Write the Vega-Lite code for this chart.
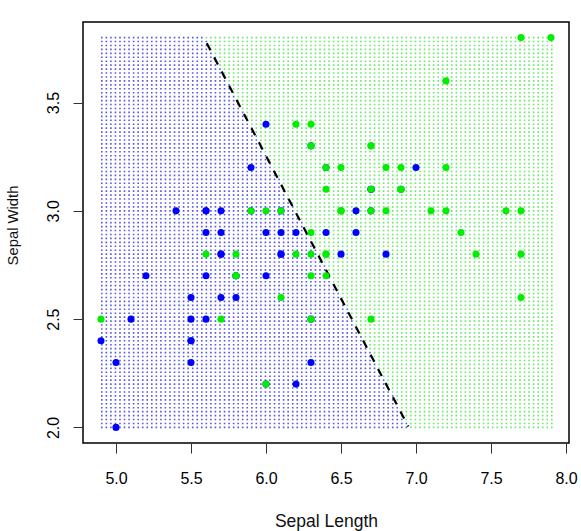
{
"$schema":"https://vega.github.io/schema/vega-lite/v6.json",
"width":486,"height":421,
"autosize":{"type":"none"},
"padding":{"left":83,"top":22,"right":12,"bottom":88},
"background":"white",
"config":{"view":{"stroke":"#000","strokeWidth":1.5},"font":"Liberation Sans"},
"datasets":{
"grid":[
{"y":2,"b":6.9303,"g":6.9606},{"y":2.0182,"b":6.9303,"g":6.9606},{"y":2.0364,"b":6.9,"g":6.9303},{"y":2.0545,"b":6.9,"g":6.9303},{"y":2.0727,"b":6.8697,"g":6.9},{"y":2.0909,"b":6.8697,"g":6.9},{"y":2.1091,"b":6.8394,"g":6.8697},{"y":2.1273,"b":6.8394,"g":6.8697},{"y":2.1455,"b":6.8394,"g":6.8697},{"y":2.1636,"b":6.8091,"g":6.8394},
{"y":2.1818,"b":6.8091,"g":6.8394},{"y":2.2,"b":6.7788,"g":6.8091},{"y":2.2182,"b":6.7788,"g":6.8091},{"y":2.2364,"b":6.7485,"g":6.7788},{"y":2.2545,"b":6.7485,"g":6.7788},{"y":2.2727,"b":6.7182,"g":6.7485},{"y":2.2909,"b":6.7182,"g":6.7485},{"y":2.3091,"b":6.6879,"g":6.7182},{"y":2.3273,"b":6.6879,"g":6.7182},{"y":2.3455,"b":6.6879,"g":6.7182},
{"y":2.3636,"b":6.6576,"g":6.6879},{"y":2.3818,"b":6.6576,"g":6.6879},{"y":2.4,"b":6.6273,"g":6.6576},{"y":2.4182,"b":6.6273,"g":6.6576},{"y":2.4364,"b":6.597,"g":6.6273},{"y":2.4545,"b":6.597,"g":6.6273},{"y":2.4727,"b":6.5667,"g":6.597},{"y":2.4909,"b":6.5667,"g":6.597},{"y":2.5091,"b":6.5364,"g":6.5667},{"y":2.5273,"b":6.5364,"g":6.5667},
{"y":2.5455,"b":6.5364,"g":6.5667},{"y":2.5636,"b":6.5061,"g":6.5364},{"y":2.5818,"b":6.5061,"g":6.5364},{"y":2.6,"b":6.4758,"g":6.5061},{"y":2.6182,"b":6.4758,"g":6.5061},{"y":2.6364,"b":6.4455,"g":6.4758},{"y":2.6545,"b":6.4455,"g":6.4758},{"y":2.6727,"b":6.4152,"g":6.4455},{"y":2.6909,"b":6.4152,"g":6.4455},{"y":2.7091,"b":6.3848,"g":6.4152},
{"y":2.7273,"b":6.3848,"g":6.4152},{"y":2.7455,"b":6.3848,"g":6.4152},{"y":2.7636,"b":6.3545,"g":6.3848},{"y":2.7818,"b":6.3545,"g":6.3848},{"y":2.8,"b":6.3242,"g":6.3545},{"y":2.8182,"b":6.3242,"g":6.3545},{"y":2.8364,"b":6.2939,"g":6.3242},{"y":2.8545,"b":6.2939,"g":6.3242},{"y":2.8727,"b":6.2636,"g":6.2939},{"y":2.8909,"b":6.2636,"g":6.2939},
{"y":2.9091,"b":6.2333,"g":6.2636},{"y":2.9273,"b":6.2333,"g":6.2636},{"y":2.9455,"b":6.2333,"g":6.2636},{"y":2.9636,"b":6.203,"g":6.2333},{"y":2.9818,"b":6.203,"g":6.2333},{"y":3.0,"b":6.1727,"g":6.203},{"y":3.0182,"b":6.1727,"g":6.203},{"y":3.0364,"b":6.1424,"g":6.1727},{"y":3.0545,"b":6.1424,"g":6.1727},{"y":3.0727,"b":6.1121,"g":6.1424},
{"y":3.0909,"b":6.1121,"g":6.1424},{"y":3.1091,"b":6.0818,"g":6.1121},{"y":3.1273,"b":6.0818,"g":6.1121},{"y":3.1455,"b":6.0818,"g":6.1121},{"y":3.1636,"b":6.0515,"g":6.0818},{"y":3.1818,"b":6.0515,"g":6.0818},{"y":3.2,"b":6.0212,"g":6.0515},{"y":3.2182,"b":6.0212,"g":6.0515},{"y":3.2364,"b":5.9909,"g":6.0212},{"y":3.2545,"b":5.9909,"g":6.0212},
{"y":3.2727,"b":5.9606,"g":5.9909},{"y":3.2909,"b":5.9606,"g":5.9909},{"y":3.3091,"b":5.9303,"g":5.9606},{"y":3.3273,"b":5.9303,"g":5.9606},{"y":3.3455,"b":5.9303,"g":5.9606},{"y":3.3636,"b":5.9,"g":5.9303},{"y":3.3818,"b":5.9,"g":5.9303},{"y":3.4,"b":5.8697,"g":5.9},{"y":3.4182,"b":5.8697,"g":5.9},{"y":3.4364,"b":5.8394,"g":5.8697},
{"y":3.4545,"b":5.8394,"g":5.8697},{"y":3.4727,"b":5.8091,"g":5.8394},{"y":3.4909,"b":5.8091,"g":5.8394},{"y":3.5091,"b":5.7788,"g":5.8091},{"y":3.5273,"b":5.7788,"g":5.8091},{"y":3.5455,"b":5.7485,"g":5.7788},{"y":3.5636,"b":5.7485,"g":5.7788},{"y":3.5818,"b":5.7485,"g":5.7788},{"y":3.6,"b":5.7182,"g":5.7485},{"y":3.6182,"b":5.7182,"g":5.7485},
{"y":3.6364,"b":5.6879,"g":5.7182},{"y":3.6545,"b":5.6879,"g":5.7182},{"y":3.6727,"b":5.6576,"g":5.6879},{"y":3.6909,"b":5.6576,"g":5.6879},{"y":3.7091,"b":5.6273,"g":5.6576},{"y":3.7273,"b":5.6273,"g":5.6576},{"y":3.7455,"b":5.597,"g":5.6273},{"y":3.7636,"b":5.597,"g":5.6273},{"y":3.7818,"b":5.597,"g":5.6273},{"y":3.8,"b":5.5667,"g":5.597}
],
"iris":[
{"sl":7.0,"sw":3.2,"sp":"versicolor"},{"sl":6.4,"sw":3.2,"sp":"versicolor"},{"sl":6.9,"sw":3.1,"sp":"versicolor"},{"sl":5.5,"sw":2.3,"sp":"versicolor"},{"sl":6.5,"sw":2.8,"sp":"versicolor"},{"sl":5.7,"sw":2.8,"sp":"versicolor"},{"sl":6.3,"sw":3.3,"sp":"versicolor"},{"sl":4.9,"sw":2.4,"sp":"versicolor"},{"sl":6.6,"sw":2.9,"sp":"versicolor"},{"sl":5.2,"sw":2.7,"sp":"versicolor"},
{"sl":5.0,"sw":2.0,"sp":"versicolor"},{"sl":5.9,"sw":3.0,"sp":"versicolor"},{"sl":6.0,"sw":2.2,"sp":"versicolor"},{"sl":6.1,"sw":2.9,"sp":"versicolor"},{"sl":5.6,"sw":2.9,"sp":"versicolor"},{"sl":6.7,"sw":3.1,"sp":"versicolor"},{"sl":5.6,"sw":3.0,"sp":"versicolor"},{"sl":5.8,"sw":2.7,"sp":"versicolor"},{"sl":6.2,"sw":2.2,"sp":"versicolor"},{"sl":5.6,"sw":2.5,"sp":"versicolor"},
{"sl":5.9,"sw":3.2,"sp":"versicolor"},{"sl":6.1,"sw":2.8,"sp":"versicolor"},{"sl":6.3,"sw":2.5,"sp":"versicolor"},{"sl":6.1,"sw":2.8,"sp":"versicolor"},{"sl":6.4,"sw":2.9,"sp":"versicolor"},{"sl":6.6,"sw":3.0,"sp":"versicolor"},{"sl":6.8,"sw":2.8,"sp":"versicolor"},{"sl":6.7,"sw":3.0,"sp":"versicolor"},{"sl":6.0,"sw":2.9,"sp":"versicolor"},{"sl":5.7,"sw":2.6,"sp":"versicolor"},
{"sl":5.5,"sw":2.4,"sp":"versicolor"},{"sl":5.5,"sw":2.4,"sp":"versicolor"},{"sl":5.8,"sw":2.7,"sp":"versicolor"},{"sl":6.0,"sw":2.7,"sp":"versicolor"},{"sl":5.4,"sw":3.0,"sp":"versicolor"},{"sl":6.0,"sw":3.4,"sp":"versicolor"},{"sl":6.7,"sw":3.1,"sp":"versicolor"},{"sl":6.3,"sw":2.3,"sp":"versicolor"},{"sl":5.6,"sw":3.0,"sp":"versicolor"},{"sl":5.5,"sw":2.5,"sp":"versicolor"},
{"sl":5.5,"sw":2.6,"sp":"versicolor"},{"sl":6.1,"sw":3.0,"sp":"versicolor"},{"sl":5.8,"sw":2.6,"sp":"versicolor"},{"sl":5.0,"sw":2.3,"sp":"versicolor"},{"sl":5.6,"sw":2.7,"sp":"versicolor"},{"sl":5.7,"sw":3.0,"sp":"versicolor"},{"sl":5.7,"sw":2.9,"sp":"versicolor"},{"sl":6.2,"sw":2.9,"sp":"versicolor"},{"sl":5.1,"sw":2.5,"sp":"versicolor"},{"sl":5.7,"sw":2.8,"sp":"versicolor"},
{"sl":6.3,"sw":3.3,"sp":"virginica"},{"sl":5.8,"sw":2.7,"sp":"virginica"},{"sl":7.1,"sw":3.0,"sp":"virginica"},{"sl":6.3,"sw":2.9,"sp":"virginica"},{"sl":6.5,"sw":3.0,"sp":"virginica"},{"sl":7.6,"sw":3.0,"sp":"virginica"},{"sl":4.9,"sw":2.5,"sp":"virginica"},{"sl":7.3,"sw":2.9,"sp":"virginica"},{"sl":6.7,"sw":2.5,"sp":"virginica"},{"sl":7.2,"sw":3.6,"sp":"virginica"},
{"sl":6.5,"sw":3.2,"sp":"virginica"},{"sl":6.4,"sw":2.7,"sp":"virginica"},{"sl":6.8,"sw":3.0,"sp":"virginica"},{"sl":5.7,"sw":2.5,"sp":"virginica"},{"sl":5.8,"sw":2.8,"sp":"virginica"},{"sl":6.4,"sw":3.2,"sp":"virginica"},{"sl":6.5,"sw":3.0,"sp":"virginica"},{"sl":7.7,"sw":3.8,"sp":"virginica"},{"sl":7.7,"sw":2.6,"sp":"virginica"},{"sl":6.0,"sw":2.2,"sp":"virginica"},
{"sl":6.9,"sw":3.2,"sp":"virginica"},{"sl":5.6,"sw":2.8,"sp":"virginica"},{"sl":7.7,"sw":2.8,"sp":"virginica"},{"sl":6.3,"sw":2.7,"sp":"virginica"},{"sl":6.7,"sw":3.3,"sp":"virginica"},{"sl":7.2,"sw":3.2,"sp":"virginica"},{"sl":6.2,"sw":2.8,"sp":"virginica"},{"sl":6.1,"sw":3.0,"sp":"virginica"},{"sl":6.4,"sw":2.8,"sp":"virginica"},{"sl":7.2,"sw":3.0,"sp":"virginica"},
{"sl":7.4,"sw":2.8,"sp":"virginica"},{"sl":7.9,"sw":3.8,"sp":"virginica"},{"sl":6.4,"sw":2.8,"sp":"virginica"},{"sl":6.3,"sw":2.8,"sp":"virginica"},{"sl":6.1,"sw":2.6,"sp":"virginica"},{"sl":7.7,"sw":3.0,"sp":"virginica"},{"sl":6.3,"sw":3.4,"sp":"virginica"},{"sl":6.4,"sw":3.1,"sp":"virginica"},{"sl":6.0,"sw":3.0,"sp":"virginica"},{"sl":6.9,"sw":3.1,"sp":"virginica"},
{"sl":6.7,"sw":3.1,"sp":"virginica"},{"sl":6.9,"sw":3.1,"sp":"virginica"},{"sl":5.8,"sw":2.7,"sp":"virginica"},{"sl":6.8,"sw":3.2,"sp":"virginica"},{"sl":6.7,"sw":3.3,"sp":"virginica"},{"sl":6.7,"sw":3.0,"sp":"virginica"},{"sl":6.3,"sw":2.5,"sp":"virginica"},{"sl":6.5,"sw":3.0,"sp":"virginica"},{"sl":6.2,"sw":3.4,"sp":"virginica"},{"sl":5.9,"sw":3.0,"sp":"virginica"}
],
"bound":[{"x":5.605,"y":3.774},{"x":6.949,"y":2.004}],
"extent":[{"lo":4.9,"hi":7.9}]
},
"layer":[
{"data":{"name":"grid"},
 "transform":[{"lookup":"y","from":{"data":{"name":"extent"},"key":"lo","fields":["lo"]},"default":4.9}],
 "mark":{"type":"rule","strokeDash":[1.6,2.94545],"strokeWidth":1.6,"x2Offset":1.7,"color":"#2020e0","opacity":0.75},
 "encoding":{
  "y":{"field":"y","type":"quantitative","scale":{"domain":[1.928,3.872],"nice":false,"zero":false}},
  "x":{"field":"lo","type":"quantitative","scale":{"domain":[4.78,8.02],"nice":false,"zero":false}},
  "x2":{"field":"b"}}},
{"data":{"name":"grid"},
 "transform":[{"lookup":"y","from":{"data":{"name":"extent"},"key":"hi","fields":["hi"]},"default":7.9}],
 "mark":{"type":"rule","strokeDash":[1.6,2.94545],"strokeWidth":1.6,"x2Offset":1.7,"color":"#00dd00","opacity":0.6},
 "encoding":{
  "y":{"field":"y","type":"quantitative","scale":{"domain":[1.928,3.872],"nice":false,"zero":false}},
  "x":{"field":"g","type":"quantitative","scale":{"domain":[4.78,8.02],"nice":false,"zero":false}},
  "x2":{"field":"hi"}}},
{"data":{"name":"bound"},
 "mark":{"type":"line","color":"#000","strokeWidth":2.2,"strokeDash":[8,8]},
 "encoding":{
  "x":{"field":"x","type":"quantitative","scale":{"domain":[4.78,8.02],"nice":false,"zero":false}},
  "y":{"field":"y","type":"quantitative","scale":{"domain":[1.928,3.872],"nice":false,"zero":false}}}},
{"data":{"name":"iris"},
 "mark":{"type":"point","filled":true,"size":50,"opacity":1,"strokeWidth":0},
 "encoding":{
  "x":{"field":"sl","type":"quantitative","scale":{"domain":[4.78,8.02],"nice":false,"zero":false},
   "axis":{"title":"Sepal Length","values":[5,5.5,6,6.5,7,7.5,8],"format":".1f","grid":false,"domain":false,"tickColor":"#333","tickSize":10,"tickWidth":1,"labelFontSize":16,"labelColor":"#000","labelPadding":17,"labelFlush":false,"labelOverlap":false,"titleFontSize":17.5,"titleFontWeight":"normal","titleColor":"#111","titleBaseline":"alphabetic","titleY":83,"titleX":243,"titleAlign":"center"}},
  "y":{"field":"sw","type":"quantitative","scale":{"domain":[1.928,3.872],"nice":false,"zero":false},
   "axis":{"title":"Sepal Width","values":[2,2.5,3,3.5],"format":".1f","grid":false,"domain":false,"tickColor":"#333","tickSize":10,"tickWidth":1,"labelFontSize":16,"labelColor":"#000","labelAngle":-90,"labelAlign":"center","labelBaseline":"bottom","labelPadding":11.6,"labelFlush":false,"labelOverlap":false,"titleFontSize":14.8,"titleFontWeight":"normal","titleColor":"#111","titleAngle":-90,"titleBaseline":"alphabetic","titleX":-66,"titleY":203,"titleAlign":"center"}},
  "color":{"field":"sp","type":"nominal","scale":{"domain":["versicolor","virginica"],"range":["#0000ff","#00ee00"]},"legend":null}}}
]
}
